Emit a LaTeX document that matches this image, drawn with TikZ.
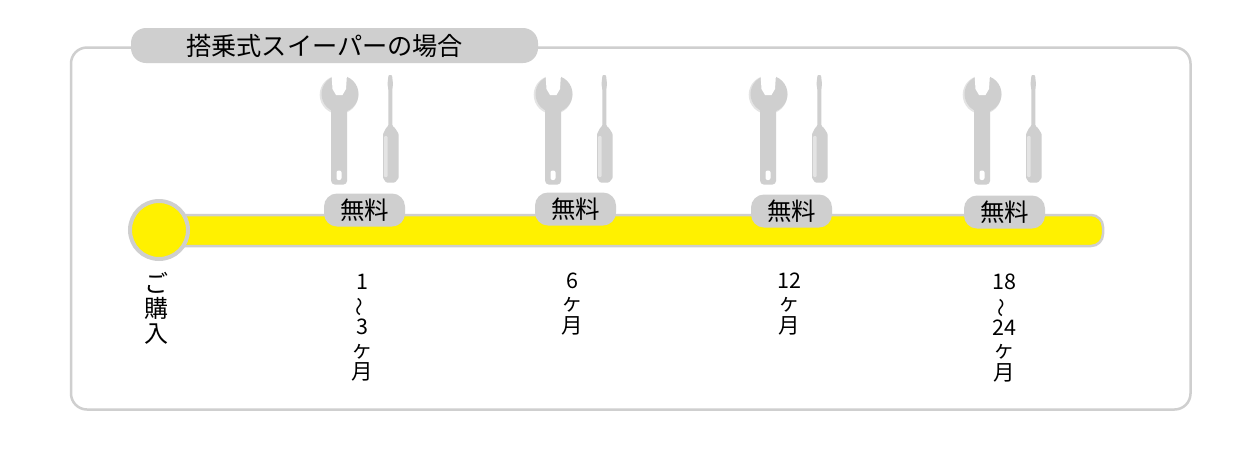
\documentclass[tikz,border=0pt]{standalone}
\usepackage{fontspec}
\setmainfont{Noto Sans CJK JP}[Scale=1]
\usepackage{graphicx}
\definecolor{toolgray}{HTML}{CFCFCF}
\definecolor{toolhi}{HTML}{E4E4E4}
\definecolor{lineyellow}{HTML}{FFF100}
\newcommand{\vtilde}{\rotatebox[origin=c]{90}{\fontsize{19}{19}\selectfont ～}}
\tikzset{
  frameline/.style={draw=toolgray,line width=2.5pt},
  pill/.style={fill=toolgray,rounded corners=13pt,minimum width=81pt,minimum height=33pt,inner sep=0pt,font=\fontsize{24.5}{24.5}\selectfont},
  vlabel/.style={align=center,inner sep=0pt,anchor=north,font=\fontsize{21.5}{22.6}\selectfont},
  tools/.pic={
    % wrench
    \fill[toolhi] (0,18.8) circle[radius=19.3];
    \fill[toolgray] (1,18) circle[radius=18.5];
    \fill[white] (-7.5,-2) -- (-6.5,13) -- (-3,19) -- (3.5,19) -- (7,13) -- (8,-2) -- cycle;
    \fill[toolgray,rounded corners=3.5pt] (-7.8,28) -- (8,28) -- (8,108.5) -- (-7.8,108.5) -- cycle;
    \fill[white,rounded corners=2pt] (-2.5,94.5) rectangle (2.5,104);
    % screwdriver
    \fill[toolgray,rounded corners=1pt] (49.5,-1) -- (53,-1) -- (54,8) -- (53.4,13) -- (53.4,50) -- (56,52) -- (59.7,58) -- (59.7,102) -- (56,106.5) -- (47,106.5) -- (44,102) -- (44,58) -- (47,52) -- (49.3,50) -- (49.3,13) -- (48.5,8) -- cycle;
    \fill[toolhi,rounded corners=1pt] (45,60) rectangle (48.5,101);
  }
}
\begin{document}
\begin{tikzpicture}[x=1pt,y=-1pt]
\useasboundingbox (0,0) rectangle (1260,456);
\fill[white] (0,0) rectangle (1260,456);
\draw[frameline,rounded corners=16pt] (131,47.5) -- (71,47.5) -- (71,409.5) -- (1190.5,409.5) -- (1190.5,47.5) -- (530,47.5);
\node[fill=toolgray,rounded corners=15pt,minimum width=407pt,minimum height=35pt,inner sep=0pt] (title) at (334.5,45.5) {};
\node[inner sep=0pt,anchor=west,font=\fontsize{25.2}{25.2}\selectfont] (titletext) at (186,45.5) {搭乗式スイーパーの場合};
\draw[fill=lineyellow,draw=toolgray,line width=2.5pt,rounded corners=12pt] (160,215) rectangle (1103,246);
\node[circle,fill=lineyellow,draw=toolgray,line width=4pt,minimum size=58pt,inner sep=0pt] (start) at (159,230) {};
\pic at (339,76) {tools};
\pic at (553,76) {tools};
\pic at (768,76) {tools};
\pic at (982,76) {tools};
\node[pill] (free1) at (364.5,210) {無料};
\node[pill] (free2) at (575.5,209) {無料};
\node[pill] (free3) at (791.5,211) {無料};
\node[pill] (free4) at (1004.5,212) {無料};
\node[vlabel,font=\fontsize{24}{24.6}\selectfont] (l0) at (156,272.5) {ご\\購\\入};
\node[vlabel] (l1) at (362,274) {1\\\vtilde\\3\\ヶ\\月};
\node[vlabel] (l2) at (572.5,272.5) {6\\ヶ\\月};
\node[vlabel] (l3) at (789,272.5) {12\\ヶ\\月};
\node[vlabel] (l4) at (1004,274) {18\\\vtilde\\24\\ヶ\\月};
\end{tikzpicture}
\end{document}
